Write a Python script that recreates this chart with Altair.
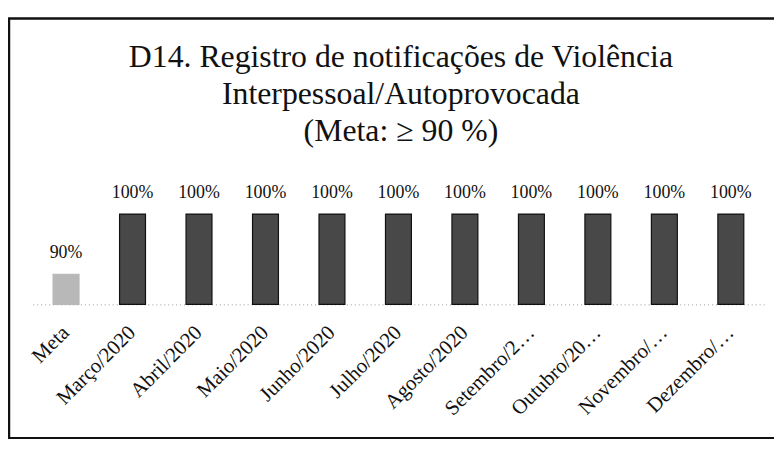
import altair as alt
import pandas as pd

categories = ["Meta", "Março/2020", "Abril/2020", "Maio/2020", "Junho/2020", "Julho/2020",
              "Agosto/2020", "Setembro/2020", "Outubro/2020", "Novembro/2020", "Dezembro/2020"]
tick_labels = ["Meta", "Março/2020", "Abril/2020", "Maio/2020", "Junho/2020", "Julho/2020",
               "Agosto/2020", "Setembro/2…", "Outubro/20…", "Novembro/…", "Dezembro/…"]
values = [90, 100, 100, 100, 100, 100, 100, 100, 100, 100, 100]
kinds = ["meta"] + ["resultado"] * 10
title_lines = ["D14. Registro de notificações de Violência", "Interpessoal/Autoprovocada", "(Meta: ≥ 90 %)"]

df = pd.DataFrame({"cat": categories, "value": values, "kind": kinds})

label_map = "{" + ",".join(f"'{c}':'{t}'" for c, t in zip(categories, tick_labels)) + "}"

FONT = "Liberation Serif"

x = alt.X("cat:N", sort=categories,
          scale=alt.Scale(paddingInner=0.61, paddingOuter=0.305),
          axis=alt.Axis(title=None, labelAngle=-45, labelAlign="right", labelBaseline="middle",
                        labelFont=FONT, labelFontSize=21, labelColor="#111",
                        labelPadding=25, ticks=False, domainColor="#999",
                        domainDash=[1, 3], domainWidth=1, labelLimit=220,
                        labelExpr=label_map + "[datum.value]"))
y = alt.Y("value:Q", scale=alt.Scale(domain=[85, 100], zero=False), axis=None)

bars = alt.Chart(df).mark_bar(strokeWidth=1.2).encode(
    x=x, y=y, y2=alt.datum(85),
    color=alt.Color("kind:N", scale=alt.Scale(domain=["meta", "resultado"], range=["#b8b8b8", "#484848"]),
                    legend=None),
    stroke=alt.Stroke("kind:N", scale=alt.Scale(domain=["meta", "resultado"], range=["#b8b8b8", "#111111"]),
                      legend=None),
)

labels = alt.Chart(df).transform_calculate(lbl="datum.value + '%'").mark_text(
    font=FONT, fontSize=18, color="#111", dy=-16, baseline="alphabetic"
).encode(x=x, y=y, text="lbl:N")

title = alt.Chart(alt.Data(values=[{"a": 1}])).mark_text(
    font=FONT, fontSize=32, color="#111", lineHeight=37, align="center", baseline="alphabetic"
).encode(x=alt.value(371), y=alt.value(-148), text=alt.value(title_lines))

border = alt.Chart(alt.Data(values=[{"a": 1}])).mark_rect(
    fill=None, stroke="#111", strokeWidth=2.5, clip=False
).encode(x=alt.value(-24), x2=alt.value(780), y=alt.value(-197), y2=alt.value(226))

chart = alt.layer(border, title, bars, labels).properties(
    width=737, height=91,
    autosize=alt.AutoSizeParams(type="none"),
    padding={"left": 25, "top": 206, "right": 10, "bottom": 134},
).configure_view(stroke=None)

chart.save("out.html", embed_options={"renderer": "svg", "actions": False})
